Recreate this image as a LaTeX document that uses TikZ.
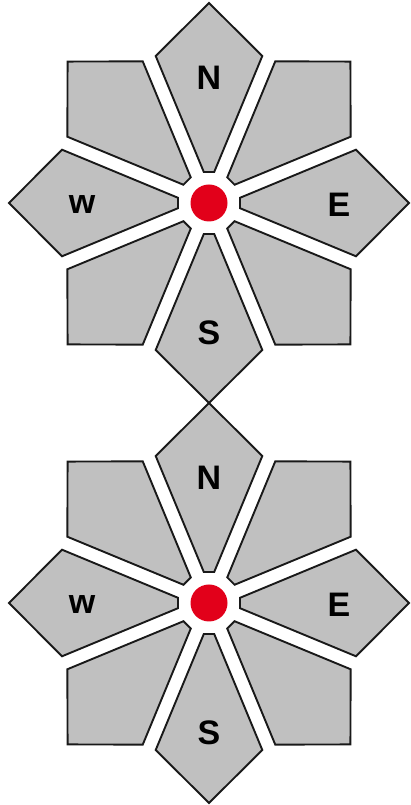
\documentclass[tikz,border=0pt]{standalone}
\usepackage{fontspec}
\setmainfont{Liberation Sans}
\usetikzlibrary{calc}
\definecolor{petalgray}{RGB}{192,192,192}
\definecolor{hubred}{RGB}{226,0,26}
\newcommand{\tikzPetal}[1]{
  \path[draw=black!90,line width=1.9pt,fill=petalgray,rotate=#1]
    (31,-5.2) -- (147,-53.3) -- (200,0) -- (147,53.3) -- (31,5.2) -- cycle;
}
\newcommand{\tikzRoseNode}[2]{
  \begin{scope}[shift={(#2)}]
  \foreach \a in {0,45,...,315} {\tikzPetal{\a}}
  \node[circle,fill=hubred,inner sep=0pt,minimum size=37pt] (#1) at (0,0) {};
  \node[lbl] (#1n) at (0,125) {N};
  \node[lbl] (#1e) at (130,-2) {E};
  \node[lbl] (#1s) at (0,-130) {S};
  \node[lbl] (#1w) at (-127,-2) {w};
  \end{scope}
}

\begin{document}
\begin{tikzpicture}[x=1pt,y=1pt,
  lbl/.style={inner sep=0pt,font=\bfseries\fontsize{34}{34}\selectfont}]
  \useasboundingbox (0,0) rectangle (411,805);

  \tikzRoseNode{top}{209,602}
  \tikzRoseNode{bot}{209,202}

\end{tikzpicture}
\end{document}
